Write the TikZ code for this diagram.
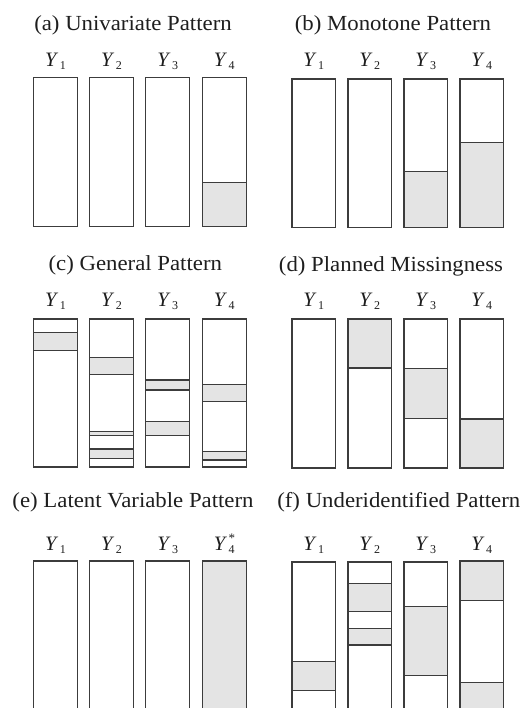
\documentclass[tikz,border=0pt]{standalone}
\usepackage{fontspec}
\setmainfont{Liberation Serif}
\usepackage{graphicx}
\definecolor{ink}{HTML}{1E1E1E}
\definecolor{edge}{HTML}{3C3C3C}
\definecolor{miss}{HTML}{E4E4E4}
% variable label: italic Y with a small upright index
\newcommand\yvar[1]{\textit{Y}\kern1.5pt\raisebox{-2.5pt}{\fontsize{12}{12}\selectfont #1}}
\begin{document}
\begin{tikzpicture}[x=1pt,y=-1pt,
  title/.style={anchor=base,text=ink,inner sep=0pt,font=\fontsize{21.5}{24}\selectfont},
  varlab/.style={anchor=base,text=ink,inner sep=0pt,font=\fontsize{20.5}{22}\selectfont},
  boxline/.style={draw=edge,line width=1.3pt},
  band/.style={fill=miss,draw=edge,line width=1.1pt}]
\useasboundingbox (0,0) rectangle (526,708);
\clip (0,0) rectangle (526,708);
% column positions (left edges) and widths
\def\wl{44}\def\wr{43.5}
\def\la{33.5}\def\lb{89.5}\def\lc{145.8}\def\ld{202.3}
\def\ra{292}\def\rb{348}\def\rc{404}\def\rd{460}

% ---------------- (a) Univariate Pattern ----------------
\node[title] (ta) at (133,31) {\scalebox{1.06}[1]{(a) Univariate Pattern}};
\foreach \x/\i in {\la/1,\lb/2,\lc/3,\ld/4}
  \node[varlab] (a\i) at (\x+22,66.7) {\yvar{\i}};
\fill[miss] (\ld,182.7) rectangle (\ld+\wl,226.7);
\draw[band,fill=none] (\ld,182.7) -- (\ld+\wl,182.7);
\foreach \x in {\la,\lb,\lc,\ld}
  \draw[boxline] (\x,77.5) rectangle (\x+\wl,226.7);

% ---------------- (b) Monotone Pattern ----------------
\node[title] (tb) at (393,31) {\scalebox{1.06}[1]{(b) Monotone Pattern}};
\foreach \x/\i in {\ra/1,\rb/2,\rc/3,\rd/4}
  \node[varlab] (b\i) at (\x+21.75,66.7) {\yvar{\i}};
\filldraw[band] (\rc,171.7) rectangle (\rc+\wr,227.7);
\filldraw[band] (\rd,142.7) rectangle (\rd+\wr,227.7);
\foreach \x in {\ra,\rb,\rc,\rd}
  \draw[boxline] (\x,79) rectangle (\x+\wr,227.7);

% ---------------- (c) General Pattern ----------------
\node[title] (tc) at (135.3,270.7) {\scalebox{1.06}[1]{(c) General Pattern}};
\foreach \x/\i in {\la/1,\lb/2,\lc/3,\ld/4}
  \node[varlab] (c\i) at (\x+22,306.7) {\yvar{\i}};
\filldraw[band] (\la,332.7) rectangle (\la+\wl,350.7);
\filldraw[band] (\lb,357.3) rectangle (\lb+\wl,374.3);
\filldraw[band] (\lb,431.7) rectangle (\lb+\wl,435.5);
\filldraw[band] (\lb,449) rectangle (\lb+\wl,458.5);
\filldraw[band] (\lc,380) rectangle (\lc+\wl,390);
\filldraw[band] (\lc,421.7) rectangle (\lc+\wl,435.5);
\filldraw[band] (\ld,384.3) rectangle (\ld+\wl,401.7);
\filldraw[band] (\ld,451.7) rectangle (\ld+\wl,460);
\foreach \x in {\la,\lb,\lc,\ld}
  \draw[boxline] (\x,319) rectangle (\x+\wl,467);

% ---------------- (d) Planned Missingness ----------------
\node[title] (td) at (391,271.7) {\scalebox{1.06}[1]{(d) Planned Missingness}};
\foreach \x/\i in {\ra/1,\rb/2,\rc/3,\rd/4}
  \node[varlab] (d\i) at (\x+21.75,306.7) {\yvar{\i}};
\filldraw[band] (\rb,319) rectangle (\rb+\wr,368);
\filldraw[band] (\rc,368.3) rectangle (\rc+\wr,418.3);
\filldraw[band] (\rd,419) rectangle (\rd+\wr,468);
\foreach \x in {\ra,\rb,\rc,\rd}
  \draw[boxline] (\x,319) rectangle (\x+\wr,468);

% ---------------- (e) Latent Variable Pattern ----------------
\node[title] (te) at (133,507.3) {\scalebox{1.06}[1]{(e) Latent Variable Pattern}};
\foreach \x/\i in {\la/1,\lb/2,\lc/3}
  \node[varlab] (e\i) at (\x+22,550.7) {\yvar{\i}};
\node[varlab] (e4) at (\ld+22,550.7)
  {\textit{Y}\kern1.5pt\rlap{\raisebox{8pt}{\fontsize{13}{13}\selectfont *}}\raisebox{-2.5pt}{\fontsize{12}{12}\selectfont 4}};
\fill[miss] (\ld,561) rectangle (\ld+\wl,720);
\foreach \x in {\la,\lb,\lc,\ld}
  \draw[boxline] (\x,720) -- (\x,561) -- (\x+\wl,561) -- (\x+\wl,720);

% ---------------- (f) Underidentified Pattern ----------------
\node[title] (tf) at (398.8,507.3) {\scalebox{1.06}[1]{(f) Underidentified Pattern}};
\foreach \x/\i in {\ra/1,\rb/2,\rc/3,\rd/4}
  \node[varlab] (f\i) at (\x+21.75,550.7) {\yvar{\i}};
\filldraw[band] (\ra,661.7) rectangle (\ra+\wr,690.3);
\filldraw[band] (\rb,583.3) rectangle (\rb+\wr,611.7);
\filldraw[band] (\rb,628.7) rectangle (\rb+\wr,645);
\filldraw[band] (\rc,606.7) rectangle (\rc+\wr,675.7);
\filldraw[band] (\rd,561) rectangle (\rd+\wr,600.7);
\filldraw[band] (\rd,682.7) rectangle (\rd+\wr,720);
\foreach \x/\t in {\ra/562,\rb/562,\rc/562,\rd/561}
  \draw[boxline] (\x,720) -- (\x,\t) -- (\x+\wr,\t) -- (\x+\wr,720);
\end{tikzpicture}
\end{document}
